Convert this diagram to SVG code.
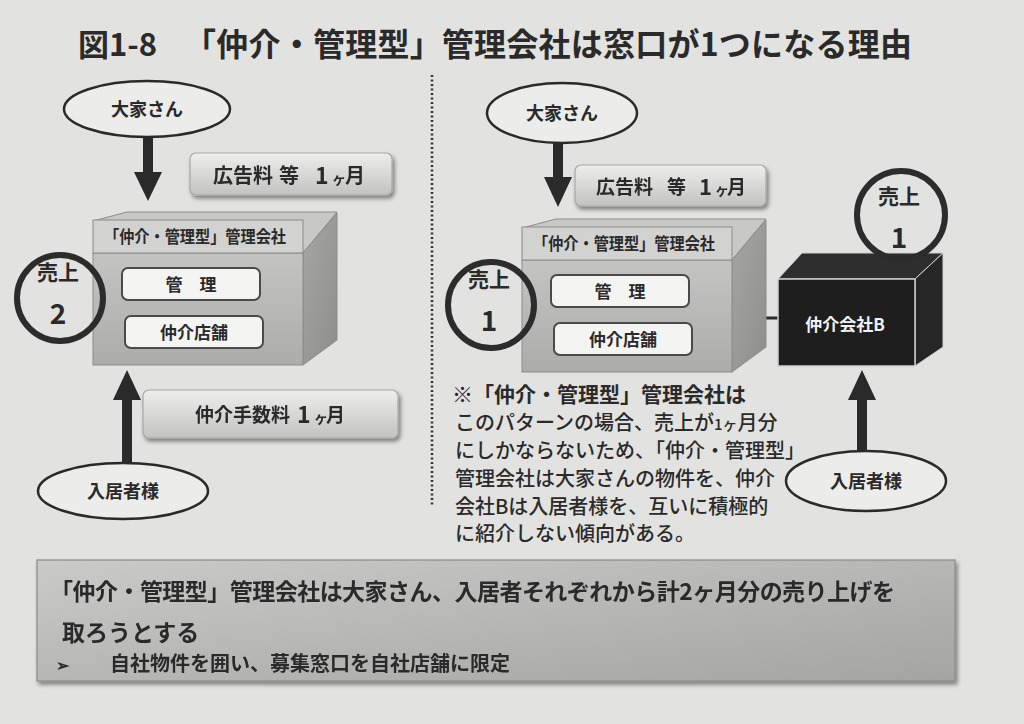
<svg xmlns="http://www.w3.org/2000/svg" width="1024" height="724" viewBox="0 0 1024 724">
<defs>
<style>
text{font-family:"Noto Sans CJK JP","Noto Sans",sans-serif;fill:#2a2a2a;font-weight:bold}
.lbl{font-size:18px;text-anchor:middle}
.ell{fill:#ececea;stroke:#2a2a2a;stroke-width:2.5}
.tag{fill:url(#gTag);stroke:#a8a8a8;stroke-width:1.2}
.inner{fill:#f4f4f2;stroke:#4a4a4a;stroke-width:2}
.ring{fill:none;stroke:#2c2c2c;stroke-width:6}
.arrow{fill:#2a2a2a}
.note{font-size:20px;font-weight:500}
</style>
<linearGradient id="gTag" x1="0" y1="0" x2="0" y2="1">
<stop offset="0" stop-color="#eeeeec"/><stop offset="1" stop-color="#c2c2c0"/>
</linearGradient>
<linearGradient id="gFront" x1="0" y1="0" x2="0" y2="1">
<stop offset="0" stop-color="#c4c4c2"/><stop offset="1" stop-color="#acacaa"/>
</linearGradient>
<linearGradient id="gSide" x1="0" y1="0" x2="1" y2="1">
<stop offset="0" stop-color="#a6a6a4"/><stop offset="1" stop-color="#8e8e8c"/>
</linearGradient>
<linearGradient id="gBottom" x1="0" y1="0" x2="1" y2="1">
<stop offset="0" stop-color="#cacac8"/><stop offset="1" stop-color="#a4a4a2"/>
</linearGradient>
<filter id="sh" x="-10%" y="-20%" width="130%" height="160%">
<feGaussianBlur in="SourceAlpha" stdDeviation="2"/>
<feOffset dx="2" dy="3"/>
<feComponentTransfer><feFuncA type="linear" slope="0.45"/></feComponentTransfer>
<feMerge><feMergeNode/><feMergeNode in="SourceGraphic"/></feMerge>
</filter>
<g id="grayBox">
<polygon points="93,221 127,212 337,212 303,253" fill="#c8c8c6" stroke="#8c8c8a" stroke-width="1"/>
<polygon points="303,253 337,213 337,340 303,365" fill="url(#gSide)" stroke="#8c8c8a" stroke-width="1"/>
<rect x="93" y="253" width="210" height="112" fill="url(#gFront)" stroke="#8c8c8a" stroke-width="1"/>
<rect x="93" y="220" width="210" height="33" fill="#d2d2d0" stroke="#8c8c8a" stroke-width="1"/>
<text x="195" y="243" font-size="17" text-anchor="middle" textLength="182" lengthAdjust="spacingAndGlyphs">「仲介・管理型」管理会社</text>
<rect class="inner" x="122" y="268" width="138" height="32" rx="6"/>
<text x="191" y="291" font-size="17" text-anchor="middle">管　理</text>
<rect class="inner" x="125" y="316" width="138" height="32" rx="6"/>
<text x="194" y="339" font-size="17" text-anchor="middle">仲介店舗</text>
</g>
</defs>
<rect width="1024" height="724" fill="#e2e2e0"/>

<g id="title">
<text x="78" y="56" font-size="31" font-weight="500" fill="#333">図1-8</text>
<text x="184" y="56" font-size="32" font-weight="500" fill="#333" textLength="728" lengthAdjust="spacing">「仲介・管理型」管理会社は窓口が1つになる理由</text>
</g>

<g id="divider">
<line x1="432" y1="75" x2="432" y2="506" stroke="#333" stroke-width="2.5" stroke-dasharray="2,2.5"/>
</g>

<g id="connectors">
<rect class="arrow" x="143" y="138" width="10" height="36"/>
<polygon class="arrow" points="134,172 162,172 148,201"/>
<rect class="arrow" x="122" y="398" width="10" height="65"/>
<polygon class="arrow" points="113,400 141,400 127,370"/>
<rect class="arrow" x="553" y="143" width="10" height="36"/>
<polygon class="arrow" points="544,177 572,177 558,207"/>
<rect class="arrow" x="857" y="398" width="10" height="54"/>
<polygon class="arrow" points="848,400 876,400 862,370"/>
<line x1="756" y1="318" x2="779" y2="318" stroke="#2a2a2a" stroke-width="3"/>
</g>

<g id="left-owner">
<ellipse class="ell" cx="147" cy="109" rx="83" ry="28"/>
<text class="lbl" x="147" y="116">大家さん</text>
</g>
<g id="left-fee1" filter="url(#sh)">
<rect class="tag" x="190" y="153" width="202" height="42" rx="6"/>
<text x="213" y="183" font-size="20">広告料</text>
<text x="279" y="183" font-size="20">等</text>
<text x="315" y="184" font-size="23">1</text>
<text x="332" y="184" font-size="14">ヶ</text>
<text x="345" y="183" font-size="20">月</text>
</g>
<g id="left-company">
<use href="#grayBox"/>
</g>
<g id="left-sales">
<circle class="ring" cx="60" cy="298" r="43"/>
<text x="58" y="280" font-size="21" text-anchor="middle">売上</text>
<text x="58" y="324" font-size="28" text-anchor="middle">2</text>
</g>
<g id="left-fee2" filter="url(#sh)">
<rect class="tag" x="143" y="390" width="255" height="48" rx="6"/>
<text x="195" y="422" font-size="19">仲介手数料</text>
<text x="297" y="423" font-size="23">1</text>
<text x="314" y="423" font-size="14">ヶ</text>
<text x="326" y="422" font-size="19">月</text>
</g>
<g id="left-tenant">
<ellipse class="ell" cx="123" cy="491" rx="85" ry="28"/>
<text class="lbl" x="123" y="498">入居者様</text>
</g>

<g id="right-owner">
<ellipse class="ell" cx="562" cy="113" rx="75" ry="30"/>
<text class="lbl" x="562" y="120">大家さん</text>
</g>
<g id="right-fee1" filter="url(#sh)">
<rect class="tag" x="575" y="165" width="191" height="41" rx="6"/>
<text x="596" y="194" font-size="19">広告料</text>
<text x="667" y="194" font-size="19">等</text>
<text x="699" y="195" font-size="22">1</text>
<text x="715" y="195" font-size="14">ヶ</text>
<text x="727" y="194" font-size="19">月</text>
</g>
<g id="right-company">
<use href="#grayBox" transform="translate(429,7)"/>
</g>
<g id="right-sales">
<circle class="ring" cx="491" cy="305" r="43"/>
<text x="489" y="287" font-size="21" text-anchor="middle">売上</text>
<text x="489" y="331" font-size="28" text-anchor="middle">1</text>
</g>
<g id="broker-b">
<polygon points="778,279 802,253 943,253 915,279" fill="#2e2e2e" stroke="#d0d0d0" stroke-width="1"/>
<polygon points="915,279 943,253 943,347 915,366" fill="#262626" stroke="#d0d0d0" stroke-width="1"/>
<rect x="778" y="279" width="137" height="87" fill="#1e1e1e" stroke="#d0d0d0" stroke-width="1.5"/>
<text x="845" y="331" font-size="17" font-weight="500" text-anchor="middle" style="fill:#f2f2f2">仲介会社B</text>
</g>
<g id="broker-sales">
<circle class="ring" cx="901" cy="215" r="44"/>
<text x="899" y="204" font-size="21" text-anchor="middle">売上</text>
<text x="899" y="248" font-size="28" text-anchor="middle">1</text>
</g>
<g id="right-tenant">
<ellipse class="ell" cx="866" cy="481" rx="80" ry="30"/>
<text class="lbl" x="866" y="488">入居者様</text>
</g>
<g id="note">
<text x="452" y="402" font-size="21">※「仲介・管理型」管理会社は</text>
<text class="note" x="455" y="430">このパターンの場合、売上が<tspan font-size="15">1ヶ</tspan>月分</text>
<text class="note" x="455" y="458">にしかならないため、「仲介・管理型」</text>
<text class="note" x="455" y="486">管理会社は大家さんの物件を、仲介</text>
<text class="note" x="455" y="514">会社Bは入居者様を、互いに積極的</text>
<text class="note" x="455" y="541">に紹介しない傾向がある。</text>
</g>

<g id="summary" filter="url(#sh)">
<rect x="37" y="560" width="918" height="121" fill="url(#gBottom)" stroke="#8a8a88" stroke-width="1.2"/>
<text x="50" y="600" font-size="23" textLength="845" lengthAdjust="spacing">「仲介・管理型」管理会社は大家さん、入居者それぞれから計2ヶ月分の売り上げを</text>
<text x="62" y="641" font-size="23">取ろうとする</text>
<text x="56" y="671" font-size="16">➢</text>
<text x="110" y="671" font-size="20">自社物件を囲い、募集窓口を自社店舗に限定</text>
</g>
</svg>
